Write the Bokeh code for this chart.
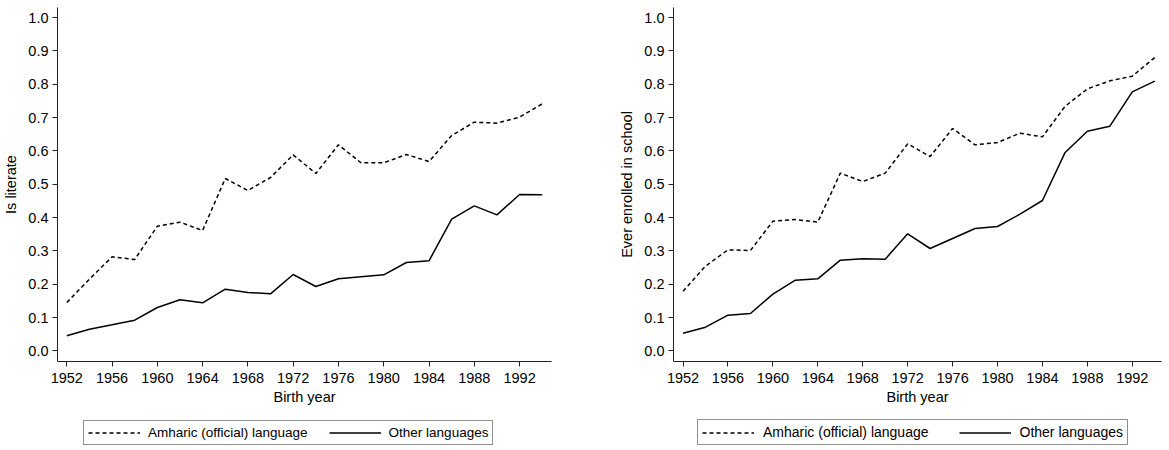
from bokeh.plotting import figure
from bokeh.models import Range1d, FixedTicker, PrintfTickFormatter, Legend, LegendItem
from bokeh.layouts import row, column
from bokeh.embed import file_html
from bokeh.resources import INLINE

years = [1952, 1954, 1956, 1958, 1960, 1962, 1964, 1966, 1968, 1970, 1972,
         1974, 1976, 1978, 1980, 1982, 1984, 1986, 1988, 1990, 1992, 1994]
lit_amharic = [0.145, 0.215, 0.282, 0.274, 0.374, 0.386, 0.361, 0.517, 0.481, 0.520, 0.588,
               0.532, 0.618, 0.564, 0.564, 0.589, 0.568, 0.646, 0.686, 0.683, 0.701, 0.741]
lit_other = [0.045, 0.065, 0.078, 0.092, 0.130, 0.153, 0.144, 0.185, 0.175, 0.171, 0.229,
             0.193, 0.216, 0.222, 0.228, 0.265, 0.270, 0.395, 0.435, 0.408, 0.469, 0.468]
enr_amharic = [0.179, 0.254, 0.303, 0.301, 0.389, 0.394, 0.386, 0.533, 0.508, 0.533, 0.621,
               0.583, 0.667, 0.618, 0.625, 0.653, 0.642, 0.733, 0.786, 0.810, 0.824, 0.880]
enr_other = [0.053, 0.071, 0.107, 0.112, 0.170, 0.212, 0.216, 0.272, 0.276, 0.275, 0.351,
             0.307, 0.337, 0.367, 0.373, 0.410, 0.451, 0.594, 0.659, 0.674, 0.777, 0.809]
x_ticks = [1952, 1956, 1960, 1964, 1968, 1972, 1976, 1980, 1984, 1988, 1992]
y_ticks = [0.0, 0.1, 0.2, 0.3, 0.4, 0.5, 0.6, 0.7, 0.8, 0.9, 1.0]
x_label = "Birth year"
series_labels = ["Amharic (official) language", "Other languages"]

FONT = "Liberation Sans"
DASH = "4 3"


def panel(fw, bl, br, xr, ylabel, amh, oth):
    p = figure(frame_width=fw, frame_height=354, output_backend="svg", toolbar_location=None,
               x_range=Range1d(*xr), y_range=Range1d(-0.032, 1.03),
               min_border_left=bl, min_border_right=br, min_border_top=7,
               min_border_bottom=48)
    p.outline_line_color = None
    p.grid.visible = False

    p.line(years, amh, line_color="black", line_width=1.5, line_dash=DASH)
    p.line(years, oth, line_color="black", line_width=1.5)

    for ax in (p.xaxis[0], p.yaxis[0]):
        ax.axis_line_color = "#222222"
        ax.axis_line_width = 1
        ax.major_tick_line_color = "#222222"
        ax.major_tick_out = 5
        ax.major_tick_in = 0
        ax.minor_tick_line_color = None
        ax.major_label_text_font = FONT
        ax.major_label_text_font_size = "14.5px"
        ax.major_label_text_color = "black"
        ax.axis_label_text_font = FONT
        ax.axis_label_text_font_size = "14.5px"
        ax.axis_label_text_font_style = "normal"
        ax.axis_label_text_color = "black"
        ax.major_label_standoff = 4

    p.xaxis.ticker = FixedTicker(ticks=x_ticks)
    p.xaxis.axis_label = x_label
    p.xaxis.major_label_standoff = 6
    p.xaxis.axis_label_standoff = 3
    p.yaxis.ticker = FixedTicker(ticks=y_ticks)
    p.yaxis.formatter = PrintfTickFormatter(format="%.1f")
    p.yaxis.axis_label = ylabel
    p.yaxis.axis_label_standoff = 6
    return p


def legend_fig(width, x0, font_size, spacing, standoff, xr, amh, oth):
    # the series are drawn here only to provide legend keys; the y-range is set
    # away from the data so the lines themselves stay out of view
    lf = figure(width=width, height=37, output_backend="svg", toolbar_location=None,
                x_range=Range1d(*xr), y_range=Range1d(5, 6),
                x_axis_location=None, y_axis_location=None,
                min_border=0)
    lf.outline_line_color = None
    lf.grid.visible = False
    r1 = lf.line(years, amh, line_color="black", line_width=1.5, line_dash=DASH)
    r2 = lf.line(years, oth, line_color="black", line_width=1.5)
    leg = Legend(items=[LegendItem(label=series_labels[0], renderers=[r1]),
                        LegendItem(label=series_labels[1], renderers=[r2])],
                 orientation="horizontal", location=(x0, 1),
                 border_line_color="#222222", border_line_width=1,
                 background_fill_color="white",
                 label_text_font=FONT, label_text_font_size=font_size,
                 label_text_color="black",
                 glyph_width=52, glyph_height=15, label_height=15,
                 label_standoff=standoff, spacing=spacing, padding=4, margin=0)
    lf.add_layout(leg, "center")
    return lf


left = panel(494, 53, 65, (1951.18, 1994.82), "Is literate", lit_amharic, lit_other)
right = panel(488, 52, 1, (1951.15, 1994.6), "Ever enrolled in school", enr_amharic,
              enr_other)
left_leg = legend_fig(612, 26, "13.5px", 21, 8, (1951.18, 1994.82), lit_amharic, lit_other)
right_leg = legend_fig(541, 24, "14px", 30, 9, (1951.15, 1994.6), enr_amharic, enr_other)

layout = row(column(left, left_leg, spacing=0), column(right, right_leg, spacing=0),
             spacing=0)
open("out.html", "w").write(file_html(layout, INLINE))
